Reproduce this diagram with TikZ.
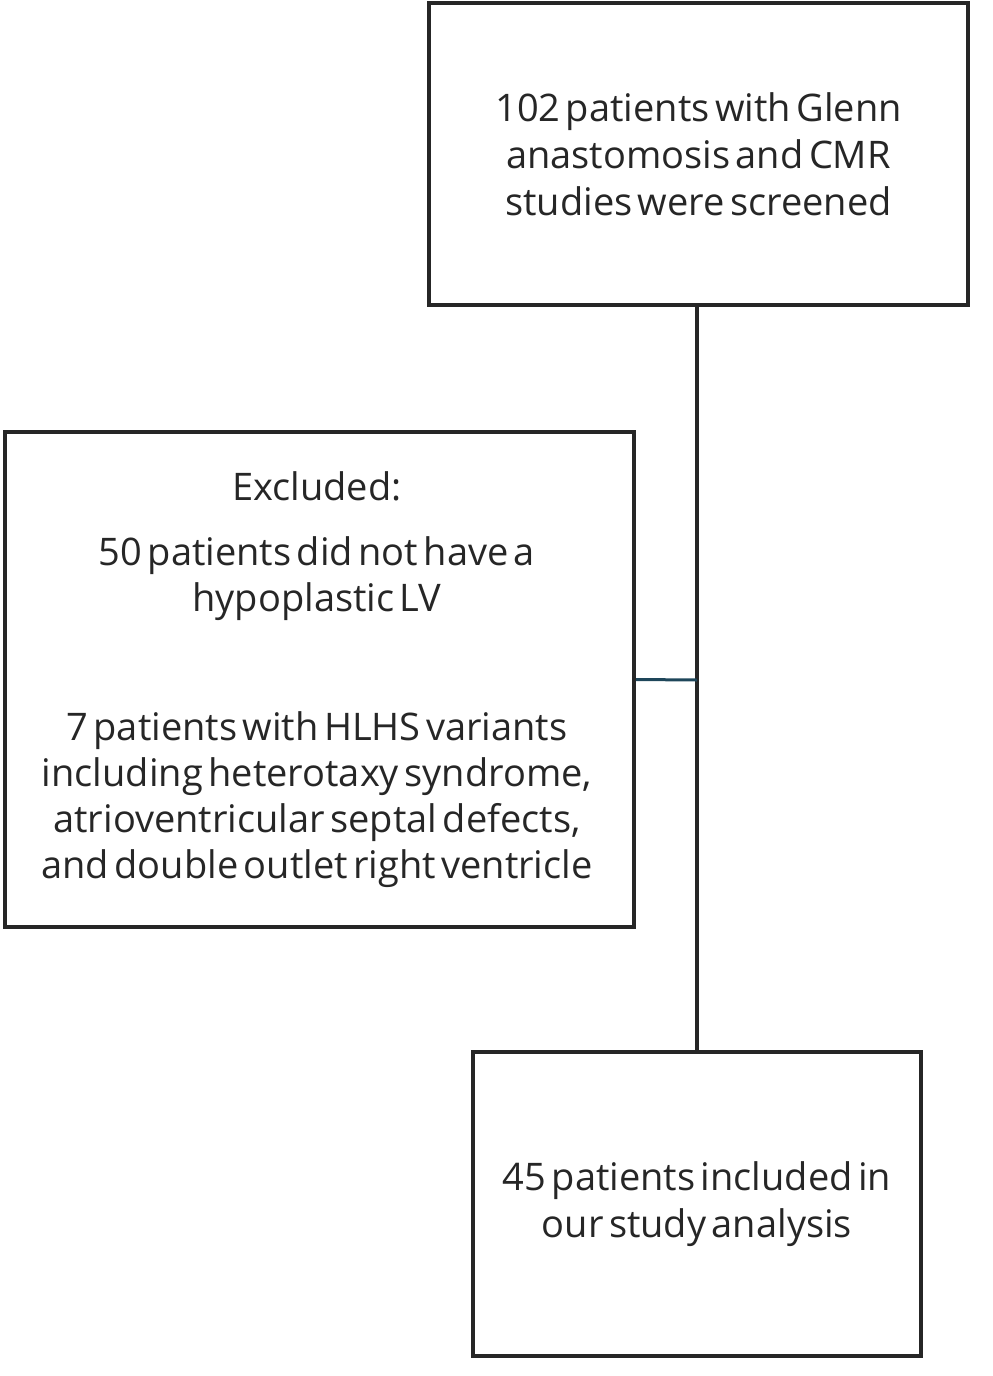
\documentclass[tikz,border=0pt]{standalone}
\usepackage{fontspec}
\setmainfont[WordSpace=0.55]{Open Sans}
\begin{document}
\begin{tikzpicture}[x=1pt,y=-1pt,
  box/.style={draw=black!85,line width=4pt,rectangle,inner sep=0pt,align=center,
    font=\fontsize{38}{47}\selectfont,text=black!85},
  conn/.style={line width=4pt,draw=black!85}]
\useasboundingbox (0,0) rectangle (993,1376);
\node[box,minimum width=539,minimum height=302] (top) at (698.5,154) {102 patients with Glenn\\anastomosis and CMR\\studies were screened};
\node[box,minimum width=629,minimum height=495] (excl) at (319.5,679.5) {};
\node[align=center,font=\fontsize{38}{46}\selectfont,text=black!85] (etext) at (317,680)
 {Excluded:\\[19pt]50 patients did not have a\\hypoplastic LV\\[83pt]7 patients with HLHS variants\\including heterotaxy syndrome,\\atrioventricular septal defects,\\and double outlet right ventricle};
\node[box,minimum width=448,minimum height=304] (bot) at (697,1204) {45 patients included in\\our study analysis};
\coordinate (j) at (697,680);
\draw[conn] (top.south -| j) -- (j) -- (bot.north -| j);
\draw[line width=3pt,draw={rgb,255:red,30;green,70;blue,90}] (excl.east) -- (j);
\end{tikzpicture}
\end{document}
